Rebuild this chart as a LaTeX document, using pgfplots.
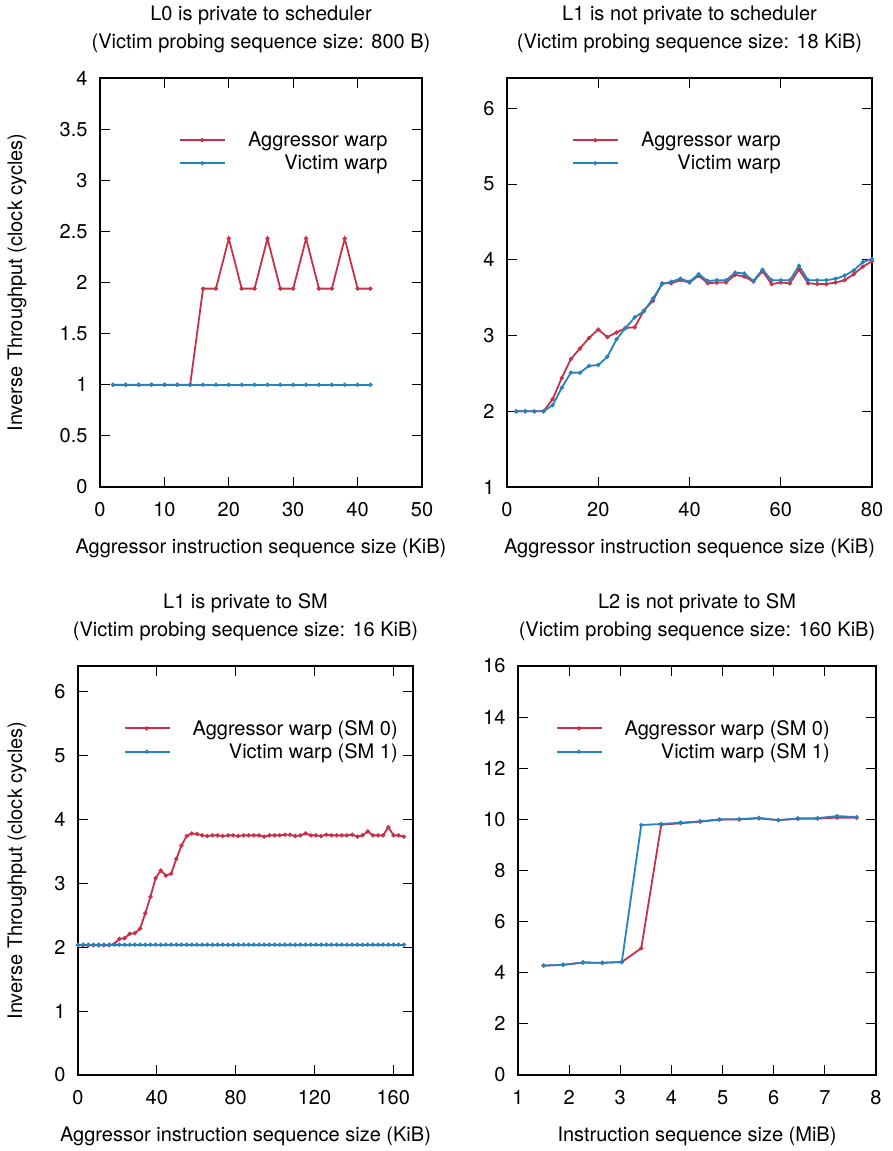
\documentclass[border=0pt]{standalone}
\usepackage{fontspec}
\setmainfont{TeX Gyre Heros}
\usepackage{pgfplots}
\pgfplotsset{compat=1.18}
\definecolor{aggr}{RGB}{200,48,72}
\definecolor{vict}{RGB}{36,132,192}
\pgfplotsset{
  gp/.style={
    scale only axis, anchor=south west, height=409pt,
    font=\fontsize{20}{24}\selectfont,
    ticklabel style={font=\fontsize{20}{24}\selectfont},
    xticklabel style={yshift=-12pt},
    yticklabel style={xshift=-9pt},
    /pgf/number format/assume math mode=true,
    tick align=inside, major tick length=10pt,
    tick style={black, line width=0.8pt},
    axis line style={line width=1.2pt},
    xtick pos=both, ytick pos=both,
    title style={align=center, font=\fontsize{20}{28}\selectfont, yshift=16pt},
    xlabel style={font=\fontsize{20}{24}\selectfont,
      at={(axis description cs:0.5,0)}, anchor=north, yshift=-48pt},
    ylabel style={font=\fontsize{20}{24}\selectfont},
    legend style={draw=none, fill=none, anchor=north east, inner sep=0pt,
      font=\fontsize{20}{24}\selectfont, row sep=3pt,
      /tikz/every odd column/.append style={column sep=20pt}},
    legend cell align=right,
    legend image code/.code={\draw[mark repeat=2,mark phase=2]
      plot coordinates {(0pt,0pt) (22pt,0pt) (45pt,0pt)};},
    every axis plot/.append style={line width=1.8pt, mark=*, mark size=1.1pt},
  }
}
\begin{document}
\begin{tikzpicture}
\useasboundingbox (0pt,0pt) rectangle (892pt,-1151pt);

% top left
\begin{axis}[gp, at={(100pt,-487pt)}, width=322pt,
  xmin=0, xmax=50, ymin=0, ymax=4,
  xtick={0,10,...,50}, ytick={0,0.5,...,4},
  title={L0 is private to scheduler\\(Victim probing sequence size: 800 B)},
  xlabel={Aggressor instruction sequence size (KiB)},
  ylabel={Inverse Throughput (clock cycles)},
  ylabel style={at={(axis description cs:-0.217,0.5)}, anchor=south},
  legend style={at={(0.9,0.873)}}]
\addplot[aggr] coordinates {
  (2,1) (4,1) (6,1) (8,1) (10,1) (12,1) (14,1)
  (16,1.94) (18,1.94) (20,2.43) (22,1.94) (24,1.94) (26,2.43)
  (28,1.94) (30,1.94) (32,2.43) (34,1.94) (36,1.94) (38,2.43)
  (40,1.94) (42,1.94)};
\addplot[vict] coordinates {
  (2,1) (4,1) (6,1) (8,1) (10,1) (12,1) (14,1) (16,1) (18,1) (20,1) (22,1)
  (24,1) (26,1) (28,1) (30,1) (32,1) (34,1) (36,1) (38,1) (40,1) (42,1)};
\legend{Aggressor warp, Victim warp}
\end{axis}

% top right
\begin{axis}[gp, at={(507pt,-487pt)}, width=365pt,
  xmin=0, xmax=80, ymin=1, ymax=6.4,
  xtick={0,20,...,80}, ytick={1,2,...,6},
  title={L1 is not private to scheduler\\(Victim probing sequence size: 18 KiB)},
  xlabel={Aggressor instruction sequence size (KiB)},
  legend style={at={(0.756,0.873)}}]
\addplot[aggr] coordinates {
  (2,2.0) (4,2.0) (6,2.0) (8,2.0) (10,2.16) (12,2.44) (14,2.69) (16,2.83)
  (18,2.97) (20,3.08) (22,2.98) (24,3.04) (26,3.10) (28,3.11) (30,3.33)
  (32,3.46) (34,3.69) (36,3.69) (38,3.73) (40,3.70) (42,3.79) (44,3.69)
  (46,3.70) (48,3.70) (50,3.80) (52,3.78) (54,3.71) (56,3.85) (58,3.68)
  (60,3.70) (62,3.69) (64,3.87) (66,3.69) (68,3.68) (70,3.68) (72,3.70)
  (74,3.73) (76,3.81) (78,3.91) (80,3.98)};
\addplot[vict] coordinates {
  (2,2.0) (4,2.0) (6,2.0) (8,2.0) (10,2.08) (12,2.31) (14,2.51) (16,2.51)
  (18,2.60) (20,2.61) (22,2.72) (24,2.95) (26,3.10) (28,3.24) (30,3.32)
  (32,3.49) (34,3.68) (36,3.71) (38,3.75) (40,3.71) (42,3.81) (44,3.72)
  (46,3.73) (48,3.73) (50,3.83) (52,3.82) (54,3.72) (56,3.87) (58,3.73)
  (60,3.73) (62,3.73) (64,3.92) (66,3.73) (68,3.73) (70,3.73) (72,3.75)
  (74,3.79) (76,3.86) (78,3.97) (80,4.01)};
\legend{Aggressor warp, Victim warp}
\end{axis}

% bottom left
\begin{axis}[gp, at={(78pt,-1075pt)}, width=335pt,
  xmin=0, xmax=170, ymin=0, ymax=6.4,
  xtick={0,40,...,160}, ytick={0,1,...,6},
  title={L1 is private to SM\\(Victim probing sequence size: 16 KiB)},
  xlabel={Aggressor instruction sequence size (KiB)},
  ylabel={Inverse Throughput (clock cycles)},
  ylabel style={at={(axis description cs:-0.143,0.5)}, anchor=south},
  legend style={at={(0.961,0.873)}}]
\addplot[aggr] coordinates {
  (0,2.03) (2.625,2.03) (5.25,2.03) (7.875,2.03) (10.5,2.03) (13.125,2.03)
  (15.75,2.03) (18.375,2.05) (21,2.13) (23.625,2.14) (26.25,2.21)
  (28.875,2.22) (31.5,2.29) (34.125,2.53) (36.75,2.79) (39.375,3.08)
  (42,3.20) (44.625,3.12) (47.25,3.15) (49.875,3.38) (52.5,3.59)
  (55.125,3.74) (57.75,3.78) (60.375,3.77) (63,3.75) (65.625,3.74)
  (68.25,3.75) (70.875,3.75) (73.5,3.74) (76.125,3.75) (78.75,3.75)
  (81.375,3.74) (84,3.75) (86.625,3.75) (89.25,3.75) (91.875,3.75)
  (94.5,3.73) (97.125,3.75) (99.75,3.75) (102.375,3.75) (105,3.76)
  (107.625,3.76) (110.25,3.74) (112.875,3.75) (115.5,3.78) (118.125,3.75)
  (120.75,3.75) (123.375,3.74) (126,3.76) (128.625,3.75) (131.25,3.75)
  (133.875,3.75) (136.5,3.75) (139.125,3.76) (141.75,3.73) (144.375,3.75)
  (147,3.81) (149.625,3.75) (152.25,3.75) (154.875,3.75) (157.5,3.88)
  (160.125,3.75) (162.75,3.75) (165.375,3.73)};
\addplot[vict] coordinates {
  (0,2.04) (2.625,2.04) (5.25,2.04) (7.875,2.04) (10.5,2.04) (13.125,2.04)
  (15.75,2.04) (18.375,2.04) (21,2.04) (23.625,2.04) (26.25,2.04)
  (28.875,2.04) (31.5,2.04) (34.125,2.04) (36.75,2.04) (39.375,2.04)
  (42,2.04) (44.625,2.04) (47.25,2.04) (49.875,2.04) (52.5,2.04)
  (55.125,2.04) (57.75,2.04) (60.375,2.04) (63,2.04) (65.625,2.04)
  (68.25,2.04) (70.875,2.04) (73.5,2.04) (76.125,2.04) (78.75,2.04)
  (81.375,2.04) (84,2.04) (86.625,2.04) (89.25,2.04) (91.875,2.04)
  (94.5,2.04) (97.125,2.04) (99.75,2.04) (102.375,2.04) (105,2.04)
  (107.625,2.04) (110.25,2.04) (112.875,2.04) (115.5,2.04) (118.125,2.04)
  (120.75,2.04) (123.375,2.04) (126,2.04) (128.625,2.04) (131.25,2.04)
  (133.875,2.04) (136.5,2.04) (139.125,2.04) (141.75,2.04) (144.375,2.04)
  (147,2.04) (149.625,2.04) (152.25,2.04) (154.875,2.04) (157.5,2.04)
  (160.125,2.04) (162.75,2.04) (165.375,2.04)};
\legend{Aggressor warp (SM 0), Victim warp (SM 1)}
\end{axis}

% bottom right
\begin{axis}[gp, at={(518pt,-1075pt)}, width=358pt,
  xmin=1, xmax=8, ymin=0, ymax=16,
  xtick={1,2,...,8}, ytick={0,2,...,16},
  title={L2 is not private to SM\\(Victim probing sequence size: 160 KiB)},
  xlabel={Instruction sequence size (MiB)},
  legend style={at={(0.877,0.873)}}]
\addplot[aggr] coordinates {
  (1.50,4.28) (1.88,4.31) (2.27,4.40) (2.65,4.39) (3.03,4.42) (3.41,4.96)
  (3.80,9.79) (4.18,9.85) (4.56,9.91) (4.94,9.99) (5.33,10.00) (5.71,10.04)
  (6.09,9.97) (6.47,10.02) (6.86,10.03) (7.24,10.07) (7.62,10.06)};
\addplot[vict] coordinates {
  (1.50,4.28) (1.88,4.31) (2.27,4.40) (2.65,4.39) (3.03,4.42) (3.41,9.78)
  (3.80,9.82) (4.18,9.87) (4.56,9.92) (4.94,10.00) (5.33,10.01) (5.71,10.06)
  (6.09,9.97) (6.47,10.04) (6.86,10.05) (7.24,10.13) (7.62,10.09)};
\legend{Aggressor warp (SM 0), Victim warp (SM 1)}
\end{axis}
\end{tikzpicture}
\end{document}
